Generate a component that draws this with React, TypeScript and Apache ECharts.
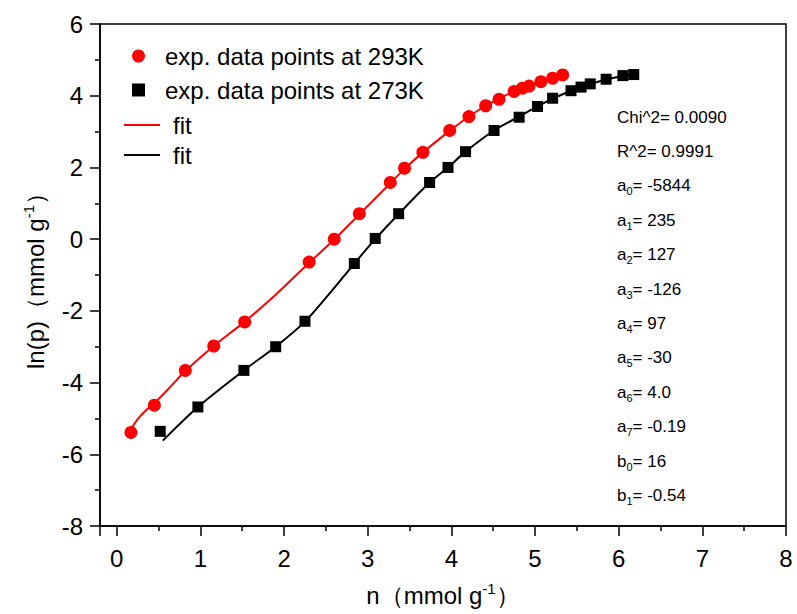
import React, { useEffect, useRef } from 'react';
import * as echarts from 'echarts';

// Experimental data at 293 K
const x293 = [0.17, 0.45, 0.82, 1.16, 1.53, 2.30, 2.60, 2.90, 3.27, 3.44, 3.66, 3.98, 4.21, 4.41, 4.57, 4.75, 4.85, 4.93, 5.07, 5.21, 5.33];
const y293 = [-5.39, -4.63, -3.66, -2.98, -2.31, -0.64, 0.0, 0.71, 1.58, 1.98, 2.42, 3.03, 3.42, 3.72, 3.90, 4.12, 4.21, 4.27, 4.39, 4.49, 4.58];

// Experimental data at 273 K
const x273 = [0.52, 0.97, 1.52, 1.90, 2.25, 2.84, 3.09, 3.37, 3.74, 3.96, 4.17, 4.51, 4.81, 5.03, 5.21, 5.43, 5.55, 5.66, 5.85, 6.05, 6.18];
const y273 = [-5.36, -4.68, -3.66, -3.0, -2.29, -0.68, 0.02, 0.71, 1.58, 2.0, 2.44, 3.03, 3.40, 3.70, 3.93, 4.14, 4.24, 4.33, 4.46, 4.56, 4.59];

// Fit curves
const fit293X = [0.12, 0.17, 0.25, 0.35, 0.45, 0.60, 0.82, 1.16, 1.53, 1.90, 2.30, 2.60, 2.90, 3.27, 3.44, 3.66, 3.98, 4.21, 4.41, 4.57, 4.75, 4.93, 5.07, 5.21, 5.35];
const fit293Y = [-5.50, -5.30, -5.02, -4.77, -4.57, -4.22, -3.68, -2.98, -2.30, -1.55, -0.66, -0.01, 0.69, 1.56, 1.96, 2.42, 3.02, 3.42, 3.72, 3.92, 4.12, 4.28, 4.38, 4.48, 4.58];
const fit273X = [0.55, 0.97, 1.52, 1.90, 2.25, 2.55, 2.84, 3.09, 3.37, 3.74, 3.96, 4.17, 4.51, 4.81, 5.03, 5.21, 5.43, 5.66, 5.85, 6.05, 6.20];
const fit273Y = [-5.62, -4.68, -3.66, -3.00, -2.30, -1.50, -0.68, 0.00, 0.70, 1.58, 2.00, 2.44, 3.03, 3.42, 3.70, 3.92, 4.13, 4.32, 4.45, 4.55, 4.60];

// Fit parameter annotations
const annotBase = ['Chi^2', 'R^2', 'a', 'a', 'a', 'a', 'a', 'a', 'a', 'a', 'b', 'b'];
const annotSub = ['', '', '0', '1', '2', '3', '4', '5', '6', '7', '0', '1'];
const annotValue = ['0.0090', '0.9991', '-5844', '235', '127', '-126', '97', '-30', '4.0', '-0.19', '16', '-0.54'];

const seriesNames = ['exp. data points at 293K', 'exp. data points at 273K', 'fit293', 'fit273'];

const FONT = 'Liberation Sans, Arial, Helvetica, sans-serif';

const zip = (xs: number[], ys: number[]) => xs.map((x, i) => [x, ys[i]]);

export default function App() {
  const ref = useRef<HTMLDivElement>(null);

  useEffect(() => {
    if (!ref.current) return;
    const chart = echarts.init(ref.current, null, { renderer: 'svg' });

    const graphics = annotBase.map((b, i) => {
      const text = annotSub[i]
        ? `{m|${b}}{s|${annotSub[i]}}{m|= ${annotValue[i]}}`
        : `{m|${b}= ${annotValue[i]}}`;
      return {
        type: 'text',
        x: 617,
        y: 117 + i * 34.4,
        style: {
          text,
          align: 'left',
          verticalAlign: 'middle',
          rich: {
            m: { fontSize: 17, fontFamily: FONT, fill: '#000', lineHeight: 22 },
            s: { fontSize: 11, fontFamily: FONT, fill: '#000', lineHeight: 10, verticalAlign: 'bottom' },
          },
        },
      };
    });

    const axisCommon = {
      axisLine: { show: true, onZero: false, lineStyle: { color: '#000', width: 1.5 } },
      axisTick: { show: true, inside: false, length: 10, lineStyle: { color: '#000', width: 1.5 } },
      minorTick: { show: true, splitNumber: 2, length: 5, lineStyle: { color: '#000', width: 1.5 } },
      splitLine: { show: false },
      minorSplitLine: { show: false },
    };

    chart.setOption({
      animation: false,
      backgroundColor: '#fff',
      grid: {
        left: 100,
        right: 11,
        top: 24,
        bottom: 87,
        show: true,
        borderColor: '#000',
        borderWidth: 1.5,
        backgroundColor: 'transparent',
      },
      legend: [
        {
          data: [seriesNames[0], seriesNames[1]],
          orient: 'vertical',
          left: 127,
          top: 39,
          itemWidth: 13,
          itemHeight: 13,
          itemGap: 10,
          textStyle: { fontSize: 24, fontFamily: FONT, color: '#000', padding: [0, 0, 0, 15] },
        },
        {
          data: [
            { name: seriesNames[2], icon: 'rect' },
            { name: seriesNames[3], icon: 'rect' },
          ],
          orient: 'vertical',
          left: 119,
          top: 108,
          itemWidth: 36,
          itemHeight: 2,
          itemGap: 6,
          formatter: () => 'fit',
          textStyle: { fontSize: 24, fontFamily: FONT, color: '#000', padding: [0, 0, 0, 8] },
        },
      ],
      xAxis: {
        type: 'value',
        min: -0.2,
        max: 8,
        splitNumber: 8,
        ...axisCommon,
        axisLabel: { fontSize: 24, fontFamily: FONT, color: '#000', margin: 20, showMinLabel: false },
        name: 'n（mmol g{sup|-1}）',
        nameLocation: 'middle',
        nameGap: 55,
        nameTextStyle: {
          fontSize: 24,
          fontFamily: FONT,
          color: '#000',
          rich: { sup: { fontSize: 15, fontFamily: FONT, color: '#000', lineHeight: 12, verticalAlign: 'top' } },
          lineHeight: 28,
        },
      },
      yAxis: {
        type: 'value',
        min: -8,
        max: 6,
        interval: 2,
        ...axisCommon,
        axisLabel: { fontSize: 24, fontFamily: FONT, color: '#000', margin: 17 },
        name: 'ln(p)（mmol g{sup|-1}）',
        nameLocation: 'middle',
        nameGap: 51,
        nameTextStyle: {
          fontSize: 24,
          fontFamily: FONT,
          color: '#000',
          rich: { sup: { fontSize: 15, fontFamily: FONT, color: '#000', lineHeight: 12, verticalAlign: 'top' } },
          lineHeight: 28,
        },
      },
      series: [
        {
          name: seriesNames[0],
          type: 'scatter',
          data: zip(x293, y293),
          symbol: 'circle',
          symbolSize: 13,
          itemStyle: { color: '#ff0000', opacity: 1 },
          z: 4,
        },
        {
          name: seriesNames[1],
          type: 'scatter',
          data: zip(x273, y273),
          symbol: 'rect',
          symbolSize: 11,
          itemStyle: { color: '#000', opacity: 1 },
          z: 4,
        },
        {
          name: seriesNames[2],
          type: 'line',
          data: zip(fit293X, fit293Y),
          smooth: 0.3,
          symbol: 'none',
          showSymbol: false,
          color: '#ff0000',
          itemStyle: { color: '#ff0000' },
          lineStyle: { color: '#ff0000', width: 2 },
          z: 2,
        },
        {
          name: seriesNames[3],
          type: 'line',
          data: zip(fit273X, fit273Y),
          smooth: 0.3,
          symbol: 'none',
          showSymbol: false,
          color: '#000',
          itemStyle: { color: '#000' },
          lineStyle: { color: '#000', width: 2 },
          z: 2,
        },
      ],
      graphic: graphics,
    });

    return () => chart.dispose();
  }, []);

  return (
    <div
      ref={ref}
      style={{ position: 'fixed', left: 0, top: 0, width: 797, height: 614, background: '#fff' }}
    />
  );
}
